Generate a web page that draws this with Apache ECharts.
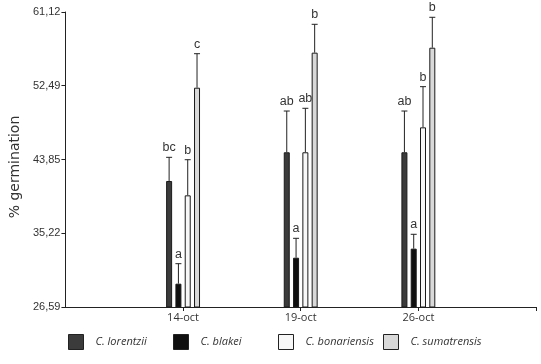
<!DOCTYPE html>
<html><head><meta charset="utf-8">
<script src="https://cdn.jsdelivr.net/npm/echarts@6/dist/echarts.min.js"></script>
<style>html,body{margin:0;padding:0;background:#fff}#c{width:541px;height:364px}</style>
</head><body><div id="c"></div>
<script>
const categories = ['14-oct', '19-oct', '26-oct'];
const seriesNames = ['C. lorentzii', 'C. blakei', 'C. bonariensis', 'C. sumatrensis'];
const lorentzii = [41.34, 44.70, 44.70];
const blakei = [29.32, 32.36, 33.42];
const bonariensis = [39.66, 44.70, 47.62];
const sumatrensis = [52.26, 56.36, 56.94];
const lorentziiErr = [2.77, 4.83, 4.83];
const blakeiErr = [2.34, 2.27, 1.68];
const bonariensisErr = [4.17, 5.15, 4.76];
const sumatrensisErr = [3.98, 3.32, 3.56];
const lorentziiLetters = ['bc', 'ab', 'ab'];
const blakeiLetters = ['a', 'a', 'a'];
const bonariensisLetters = ['b', 'ab', 'b'];
const sumatrensisLetters = ['c', 'b', 'b'];
const yTicks = [26.59, 35.22, 43.85, 52.49, 61.12];

const means = [lorentzii, blakei, bonariensis, sumatrensis];
const errs = [lorentziiErr, blakeiErr, bonariensisErr, sumatrensisErr];
const letters = [lorentziiLetters, blakeiLetters, bonariensisLetters, sumatrensisLetters];
const colors = ['#3b3b3b', '#101010', '#f7f7f7', '#d9d9d9'];
const BAR_W = 6, GAP = 3.3;
const axisCats = [''].concat(categories, ['']);

const series = [];
seriesNames.forEach((name, s) => {
  series.push({
    name, type: 'bar', barWidth: BAR_W, barGap: (GAP / BAR_W * 100) + '%',
    itemStyle: { color: colors[s], borderColor: '#1a1a1a', borderWidth: 1 },
    data: [null].concat(means[s], [null]),
    z: 2
  });
});
const errData = [];
seriesNames.forEach((name, s) => {
  categories.forEach((c, i) => {
    errData.push([i + 1, means[s][i], means[s][i] + errs[s][i], letters[s][i], s]);
  });
});
series.push({
  type: 'custom', name: 'err', z: 5,
  data: errData,
  renderItem(params, api) {
    const s = api.value(4);
    const off = (s - 1.5) * (BAR_W + GAP);
    const p0 = api.coord([api.value(0), api.value(1)]);
    const p1 = api.coord([api.value(0), api.value(2)]);
    const x = p0[0] + off;
    const idx = params.dataIndex;
    const letter = errData[idx][3];
    return {
      type: 'group', children: [
        { type: 'line', shape: { x1: x, y1: p0[1], x2: x, y2: p1[1] }, style: { stroke: '#222', lineWidth: 1 } },
        { type: 'line', shape: { x1: x - 3, y1: p1[1], x2: x + 3, y2: p1[1] }, style: { stroke: '#222', lineWidth: 1 } },
        { type: 'text', x: x, y: p1[1] - 3, style: { text: letter, fill: '#333', font: '12.5px "Liberation Sans"', align: 'center', verticalAlign: 'bottom' } }
      ]
    };
  }
});

const legendLefts = [63, 168, 273, 378];
const legends = seriesNames.map((n, i) => ({
  data: [n], left: legendLefts[i], top: 329, itemWidth: 15, itemHeight: 15, icon: 'rect',
  selectedMode: false,
  itemStyle: { borderColor: '#222', borderWidth: 1 },
  textStyle: { fontFamily: 'Open Sans', fontStyle: 'italic', fontSize: 11, color: '#333', padding: [0, 0, 0, 7] }
}));

const chart = echarts.init(document.getElementById('c'), null, { renderer: 'canvas' });
chart.setOption({
  animation: false,
  backgroundColor: '#fff',
  grid: { left: 62, right: 5, top: 12, bottom: 57, containLabel: false },
  legend: legends,
  xAxis: {
    type: 'category', data: axisCats, boundaryGap: false,
    axisLine: { lineStyle: { color: '#222', width: 1 } },
    axisTick: { length: 4, interval: (i) => i !== 0, lineStyle: { color: '#222' } },
    axisLabel: { interval: 0, color: '#333', fontFamily: 'Open Sans', fontSize: 11, margin: 5 },
    splitLine: { show: false }
  },
  yAxis: {
    type: 'value', min: yTicks[0], max: yTicks[yTicks.length - 1],
    name: '% germination', nameLocation: 'middle', nameGap: 36,
    nameTextStyle: { fontFamily: 'DejaVu Sans', fontSize: 14, color: '#333', padding: [0, 15, 0, 0] },
    axisLine: { show: true, lineStyle: { color: '#222', width: 1 } },
    axisTick: { show: true, length: 4, customValues: yTicks, lineStyle: { color: '#222' } },
    axisLabel: { customValues: yTicks, color: '#333', fontFamily: 'Liberation Sans', fontSize: 11, margin: 5,
      formatter: (v) => v.toFixed(2).replace('.', ',') },
    splitLine: { show: false }
  },
  series
});
</script></body></html>
